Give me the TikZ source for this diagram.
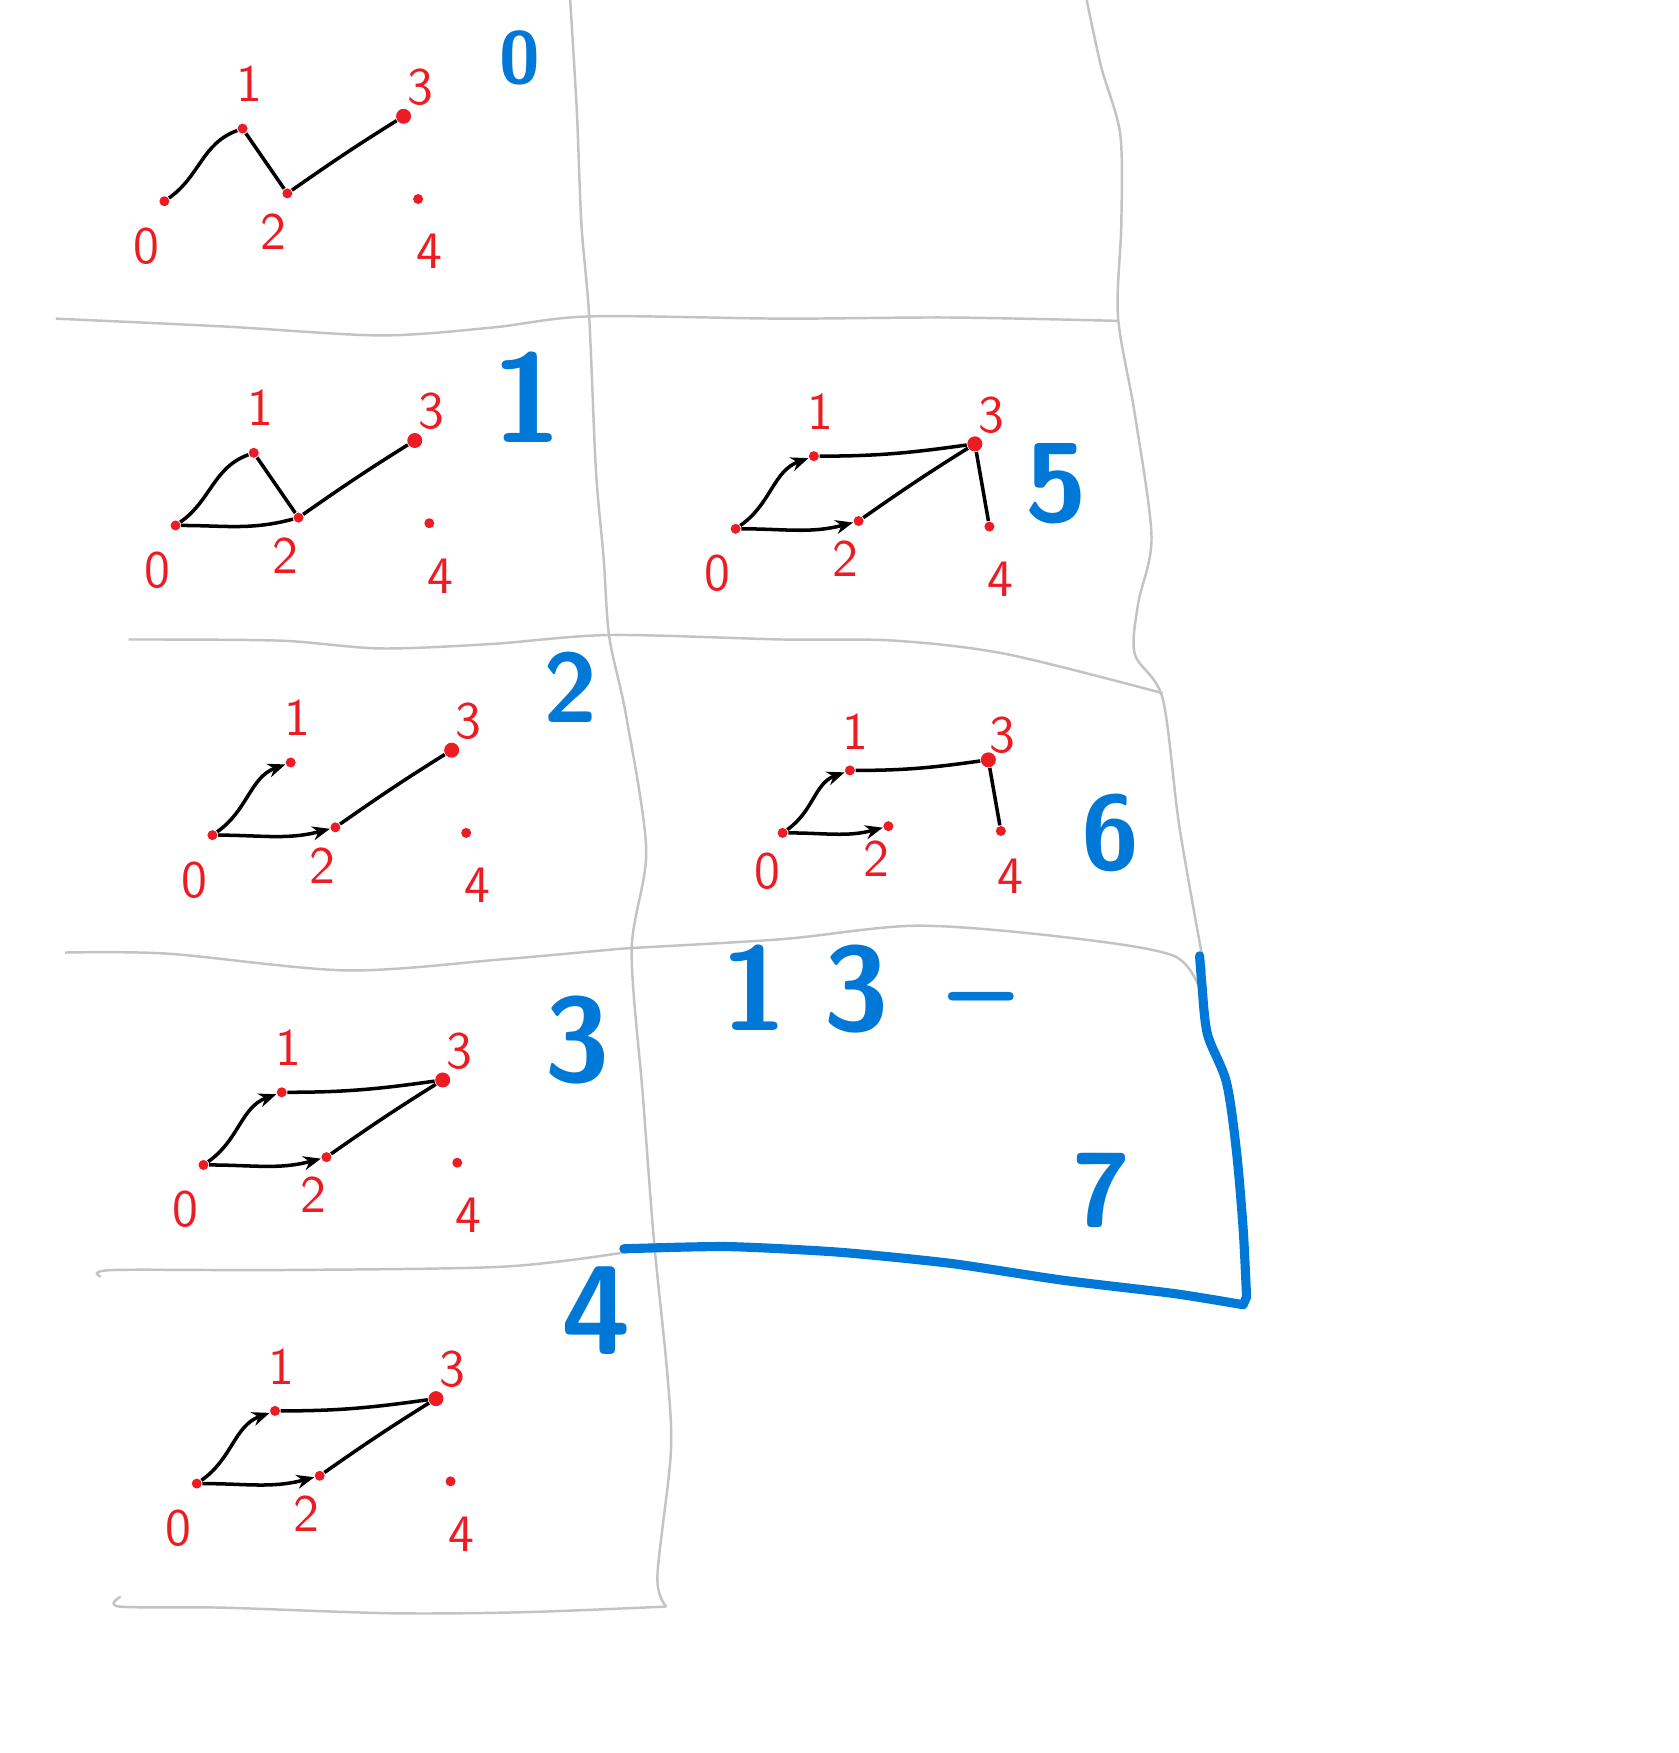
\documentclass[tikz,border=0pt]{standalone}
\usepackage{xcolor}
\usepackage{tikz}
\usetikzlibrary{arrows.meta, positioning, calc}

\definecolor{penred}{HTML}{ED1C24}
\definecolor{penblue}{HTML}{0078D7}
\definecolor{pengray}{HTML}{C3C3C3}

\tikzset{
	vtx/.style={circle, fill=penred, inner sep=0pt, minimum size=0.1cm},
	bigvtx/.style={vtx, minimum size=0.15cm},
	lbl/.style={text=penred, font=\sffamily\fontsize{15}{16}\selectfont, inner sep=0pt},
	stepno/.style={text=penblue, font=\sffamily\bfseries\fontsize{#1}{#1}\selectfont, inner sep=0pt},
	edge/.style={line width=1pt, black},
	arr/.style={edge, -{Stealth[length=5pt, width=4pt]}},
	grid/.style={pengray, line width=0.7pt},
	frame/.style={penblue, line width=2.6pt, line cap=round, line join=round},
}

% the five points of one sketch, with their numbers
\newcommand{\graphverts}[1]{%
	\node[vtx] (#1-0) at (0,0) {};
	\node[vtx] (#1-1) at (70,65) {};
	\node[vtx] (#1-2) at (110,7) {};
	\node[bigvtx] (#1-3) at (214,76) {};
	\node[vtx] (#1-4) at (227,2) {};
	\node[lbl] (#1-l0) at (-16,-40) {0};
	\node[lbl] (#1-l1) at (76,105) {1};
	\node[lbl] (#1-l2) at (98,-27) {2};
	\node[lbl] (#1-l3) at (229,102) {3};
	\node[lbl] (#1-l4) at (237,-45) {4};
}

\begin{document}
\begin{tikzpicture}[x=0.01118cm, y=0.01118cm]
	\useasboundingbox (0,0) rectangle (1501,-1568);

	% hand drawn grid
	\draw[grid] plot[smooth] coordinates {(510,0) (516,-100) (520,-200) (527,-283) (533,-420) (540,-500) (545,-570) (560,-640) (578,-760) (565,-850) (575,-980) (585,-1110) (597,-1230) (600,-1300) (588,-1410) (596,-1437)};
	\draw[grid] plot[smooth] coordinates {(972,0) (985,-60) (1002,-120) (1003,-200) (1000,-283) (1015,-370) (1030,-480) (1018,-540) (1015,-585) (1040,-625) (1055,-740) (1078,-870)};
	\draw[grid] plot[smooth] coordinates {(50,-285) (200,-292) (340,-300) (440,-293) (527,-283) (700,-285) (850,-284) (1000,-287)};
	\draw[grid] plot[smooth] coordinates {(115,-572) (250,-573) (340,-580) (440,-576) (545,-568) (700,-572) (800,-573) (900,-585) (1040,-620)};
	\draw[grid] plot[smooth] coordinates {(58,-852) (150,-853) (310,-868) (450,-858) (540,-850) (565,-848) (700,-840) (820,-828) (950,-838) (1050,-855) (1075,-890)};
	\draw[grid] plot[smooth] coordinates {(90,-1142) (100,-1136) (250,-1136) (450,-1133) (560,-1120)};
	\draw[grid] plot[smooth] coordinates {(108,-1428) (107,-1437) (200,-1438) (350,-1443) (470,-1442) (596,-1437)};

	% step 0
	\begin{scope}[shift={(147,-180)}]
		\graphverts{a}
		\draw[edge] (a-0) to[out=35, in=200] (a-1);
		\draw[edge] (a-1) -- (a-2);
		\draw[edge] (a-2) to[out=35, in=212] (a-3);
	\end{scope}

	% step 1
	\begin{scope}[shift={(157,-470)}]
		\graphverts{b}
		\draw[edge] (b-0) to[out=35, in=200] (b-1);
		\draw[edge] (b-1) -- (b-2);
		\draw[edge] (b-0) to[out=0, in=195] (b-2);
		\draw[edge] (b-2) to[out=35, in=212] (b-3);
	\end{scope}

	% step 2
	\begin{scope}[shift={(190,-747)}]
		\graphverts{c}
		\draw[arr] (c-0) to[out=35, in=200] (c-1);
		\draw[arr] (c-0) to[out=0, in=195] (c-2);
		\draw[edge] (c-2) to[out=35, in=212] (c-3);
	\end{scope}

	% step 3
	\begin{scope}[shift={(182,-1042)}]
		\graphverts{d}
		\draw[arr] (d-0) to[out=35, in=200] (d-1);
		\draw[edge] (d-1) to[out=0, in=188] (d-3);
		\draw[arr] (d-0) to[out=0, in=195] (d-2);
		\draw[edge] (d-2) to[out=35, in=212] (d-3);
	\end{scope}

	% step 4
	\begin{scope}[shift={(176,-1327)}]
		\graphverts{e}
		\draw[arr] (e-0) to[out=35, in=200] (e-1);
		\draw[edge] (e-1) to[out=0, in=188] (e-3);
		\draw[arr] (e-0) to[out=0, in=195] (e-2);
		\draw[edge] (e-2) to[out=35, in=212] (e-3);
	\end{scope}

	% step 5
	\begin{scope}[shift={(658,-473)}]
		\graphverts{f}
		\draw[arr] (f-0) to[out=35, in=200] (f-1);
		\draw[edge] (f-1) to[out=0, in=188] (f-3);
		\draw[arr] (f-0) to[out=0, in=195] (f-2);
		\draw[edge] (f-2) to[out=35, in=212] (f-3);
		\draw[edge] (f-3) -- (f-4);
	\end{scope}

	% step 6
	\begin{scope}[shift={(700,-745)}, scale=0.86]
		\graphverts{g}
		\draw[arr] (g-0) to[out=35, in=200] (g-1);
		\draw[edge] (g-1) to[out=0, in=188] (g-3);
		\draw[arr] (g-0) to[out=0, in=195] (g-2);
		\draw[edge] (g-3) -- (g-4);
	\end{scope}

	% step numbers
	\node[stepno=21] (n0) at (465,-52) {0};
	\node[stepno=36] (n1) at (472,-355) {1};
	\node[stepno=28] (n2) at (510,-615) {2};
	\node[stepno=34] (n3) at (516,-930) {3};
	\node[stepno=36] (n4) at (533,-1172) {4};
	\node[stepno=32] (n5) at (945,-433) {5};
	\node[stepno=30] (n6) at (993,-745) {6};
	\node[stepno=34, anchor=west] (n13) at (645,-885) {1\hspace{.3em}3\hspace{.5em}--};
	\node[stepno=30] (n7) at (985,-1065) {7};

	% blue frame round the last cell
	\draw[frame] plot[smooth, tension=0.4] coordinates {(558,-1117) (650,-1115) (750,-1120) (850,-1130) (950,-1145) (1050,-1157) (1112,-1167)}
		-- plot[smooth, tension=0.5] coordinates {(1115,-1160) (1112,-1100) (1106,-1030) (1097,-968) (1080,-925) (1075,-880) (1073,-855)};
\end{tikzpicture}
\end{document}
